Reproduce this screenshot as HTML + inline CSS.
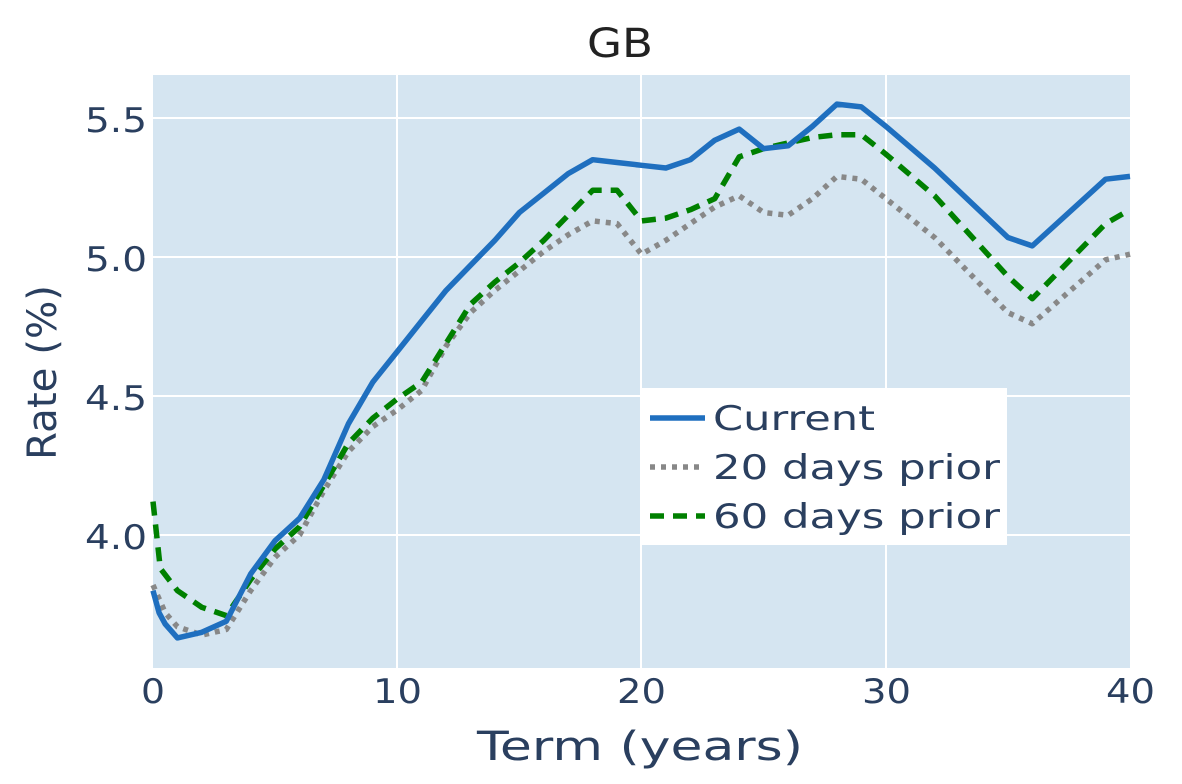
<!DOCTYPE html>
<html><head><meta charset="utf-8"><style>
body{margin:0;background:#fff;}
svg{display:block;font-family:"DejaVu Sans","Liberation Sans",sans-serif;}
</style></head><body>
<svg id="s" width="1182" height="784" xmlns="http://www.w3.org/2000/svg">
<rect x="153" y="75" width="977" height="593" fill="#d5e5f1"/>
<g stroke="#fff" stroke-width="2">
<line x1="397" y1="75" x2="397" y2="668"/><line x1="641" y1="75" x2="641" y2="668"/><line x1="886" y1="75" x2="886" y2="668"/>
<line x1="153" y1="118" x2="1130" y2="118"/><line x1="153" y1="257" x2="1130" y2="257"/><line x1="153" y1="396" x2="1130" y2="396"/><line x1="153" y1="535" x2="1130" y2="535"/>
</g>
<g id="lines" fill="none" stroke-linejoin="round"></g>
<g fill="#2a3f5f" font-size="34">
<text x="587" y="57" font-size="40" fill="#222" textLength="66" lengthAdjust="spacingAndGlyphs">GB</text>
<text x="85" y="132" textLength="62" lengthAdjust="spacingAndGlyphs">5.5</text>
<text x="85" y="271" textLength="62" lengthAdjust="spacingAndGlyphs">5.0</text>
<text x="85" y="410" textLength="62" lengthAdjust="spacingAndGlyphs">4.5</text>
<text x="85" y="549" textLength="62" lengthAdjust="spacingAndGlyphs">4.0</text>
<text x="141" y="703" textLength="24" lengthAdjust="spacingAndGlyphs">0</text>
<text x="373" y="703" textLength="49" lengthAdjust="spacingAndGlyphs">10</text>
<text x="617" y="703" textLength="49" lengthAdjust="spacingAndGlyphs">20</text>
<text x="862" y="703" textLength="49" lengthAdjust="spacingAndGlyphs">30</text>
<text x="1106" y="703" textLength="49" lengthAdjust="spacingAndGlyphs">40</text>
<text x="477" y="760" font-size="40" textLength="326" lengthAdjust="spacingAndGlyphs">Term (years)</text>
<text transform="translate(56,460) rotate(-90)" font-size="40" textLength="175" lengthAdjust="spacingAndGlyphs">Rate (%)</text>
</g>
<rect x="641" y="388" width="366" height="157" fill="#fff"/>
<line x1="650" y1="418" x2="705" y2="418" stroke="#1f6fbf" stroke-width="5.5"/>
<line x1="650" y1="467" x2="705" y2="467" stroke="#888" stroke-width="5.5" stroke-dasharray="5,6"/>
<line x1="650" y1="516" x2="705" y2="516" stroke="#008000" stroke-width="5.5" stroke-dasharray="14,9"/>
<g fill="#2a3f5f" font-size="34">
<text x="713" y="430" textLength="162" lengthAdjust="spacingAndGlyphs">Current</text>
<text x="713" y="479" textLength="287" lengthAdjust="spacingAndGlyphs">20 days prior</text>
<text x="713" y="528" textLength="287" lengthAdjust="spacingAndGlyphs">60 days prior</text></g>
</svg>
<script>
var X=t=>153+t*24.425,Y=v=>257-(v-5)*278;
var cur=[[0,3.8],[0.25,3.72],[0.5,3.68],[1,3.63],[2,3.65],[3,3.69],[4,3.86],[5,3.98],[6,4.06],[7,4.2],[8,4.4],[9,4.55],[10,4.66],[11,4.77],[12,4.88],[13,4.97],[14,5.06],[15,5.16],[16,5.23],[17,5.3],[18,5.35],[19,5.34],[20,5.33],[21,5.32],[22,5.35],[23,5.42],[24,5.46],[25,5.39],[26,5.40],[27,5.47],[28,5.55],[29,5.54],[30,5.47],[32,5.32],[35,5.07],[36,5.04],[39,5.28],[40,5.29]];
var d20=[[0,3.82],[0.5,3.72],[1,3.67],[2,3.64],[3,3.66],[4,3.8],[5,3.92],[6,4.0],[7,4.16],[8,4.3],[9,4.39],[10,4.45],[11,4.52],[12,4.68],[13,4.8],[14,4.88],[15,4.95],[16,5.02],[17,5.08],[18,5.13],[19,5.12],[20,5.01],[21,5.06],[22,5.12],[23,5.18],[24,5.22],[25,5.16],[26,5.15],[27,5.21],[28,5.29],[29,5.28],[30,5.21],[32,5.07],[35,4.8],[36,4.76],[39,4.99],[40,5.01]];
var d60=[[0,4.12],[0.3,3.88],[1,3.8],[2,3.74],[3,3.71],[4,3.84],[5,3.95],[6,4.03],[7,4.18],[8,4.33],[9,4.42],[10,4.49],[11,4.55],[12,4.69],[13,4.83],[14,4.91],[15,4.98],[16,5.06],[17,5.15],[18,5.24],[19,5.24],[20,5.13],[21,5.14],[22,5.17],[23,5.21],[24,5.36],[25,5.39],[26,5.41],[27,5.43],[28,5.44],[29,5.44],[30,5.37],[32,5.22],[35,4.93],[36,4.85],[39,5.12],[40,5.17]];
function p(a){return a.map((q,i)=>(i?'L':'M')+X(q[0]).toFixed(1)+','+Y(q[1]).toFixed(1)).join('');}
var g=document.getElementById('lines');
g.innerHTML='<path d="'+p(d20)+'" stroke="#888" stroke-width="5.5" stroke-dasharray="5,6"/>'+
'<path d="'+p(d60)+'" stroke="#008000" stroke-width="5.5" stroke-dasharray="14,9"/>'+
'<path d="'+p(cur)+'" stroke="#1f6fbf" stroke-width="5.5"/>';
</script>
</body></html>
